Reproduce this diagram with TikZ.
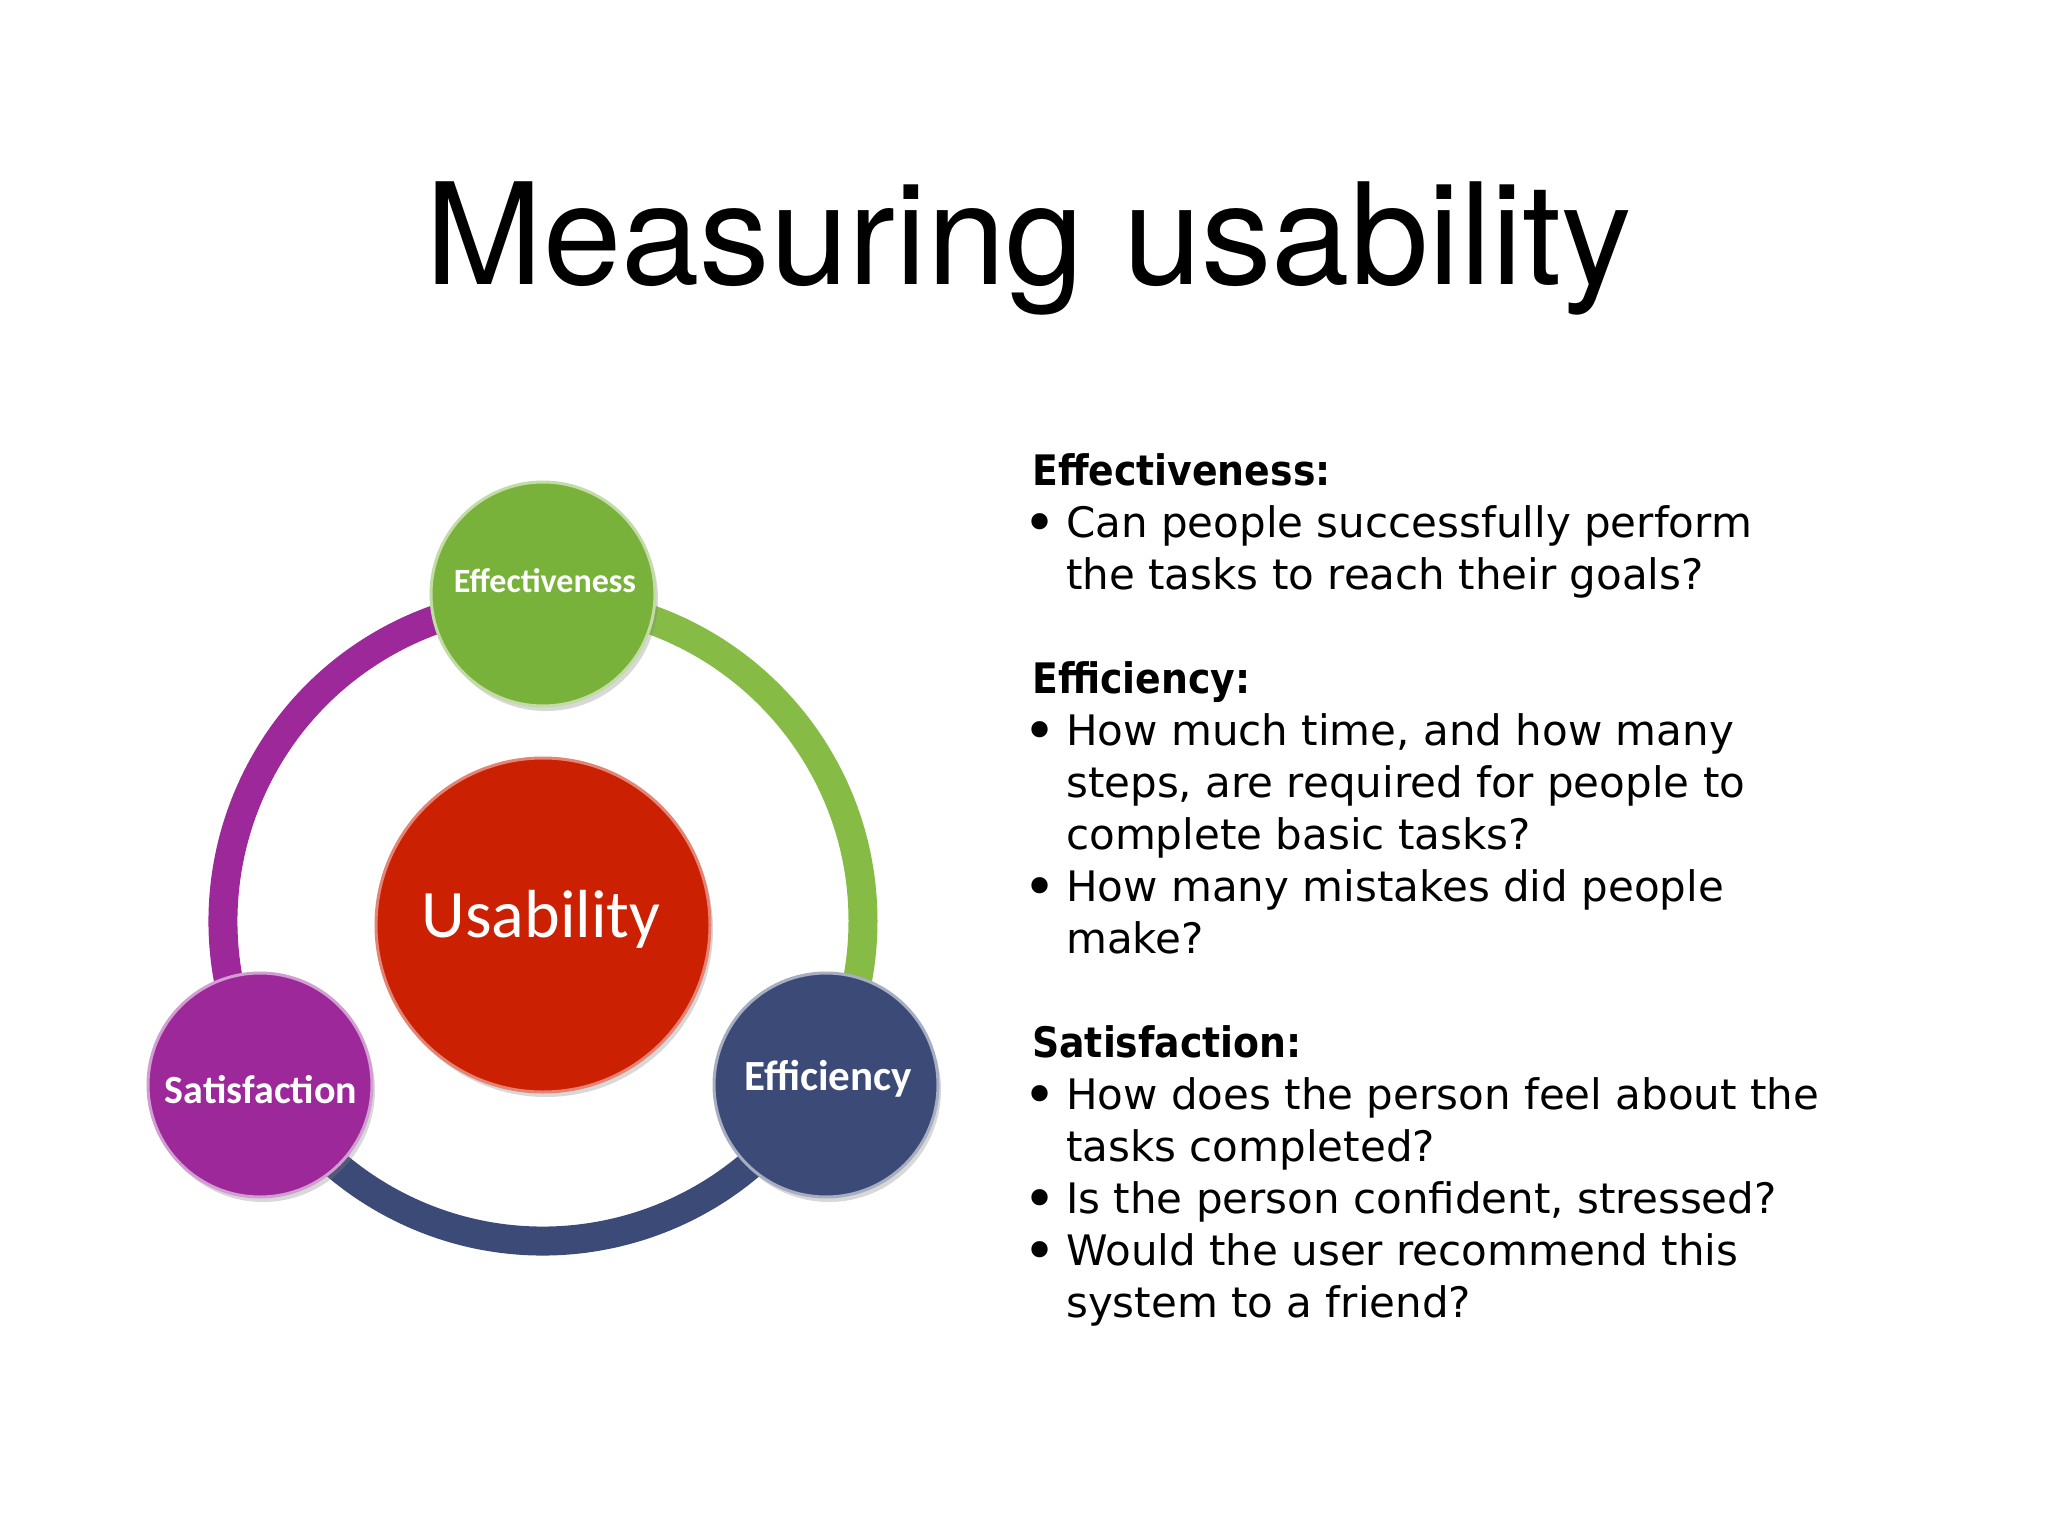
\documentclass[tikz,border=0pt]{standalone}
\usepackage{fontspec}
\setmainfont{DejaVu Sans}
\newfontfamily\titlefont{TeX Gyre Heros}
\newfontfamily\calfont{Carlito}
\newfontfamily\headfont{DejaVu Sans}[FakeStretch=0.9]
\usetikzlibrary{shadows}

\definecolor{effgreen}{RGB}{121,178,59}
\definecolor{ringgreen}{RGB}{134,188,70}
\definecolor{satpurple}{RGB}{156,40,154}
\definecolor{effnavy}{RGB}{60,74,120}
\definecolor{usered}{RGB}{204,32,2}

\newcommand{\bitem}{\makebox[34pt][l]{\hspace*{-9pt}\raisebox{-5pt}{\fontsize{56}{52}\selectfont\textbullet}}}
\newcommand{\bcont}{\hspace*{34pt}}

\begin{document}
\begin{tikzpicture}[x=1pt, y=-1pt,
    ball/.style={circle, minimum size=#1, inner sep=0pt, line width=3pt,
        drop shadow={opacity=0.3, shadow xshift=3pt, shadow yshift=-5pt}},
    ring/.style={line width=29pt},
    lbl/.style={anchor=base, inner sep=0pt, text=white},
    txt/.style={anchor=north west, inner sep=0pt, align=left,
        font=\fontsize{42}{52}\selectfont}]
    \path[use as bounding box, fill=white] (0,0) rectangle (2048,1536);

    % Title
    \node[anchor=base, inner sep=0pt, font=\titlefont\fontsize{141}{160}\selectfont]
        (title) at (1029,284) {Measuring usability};

    % Ring round the usability circle
    \coordinate (ctr) at (543,921);
    \draw[ring, ringgreen] (ctr) ++(-90:320) arc[start angle=-90, end angle=30, radius=320];
    \draw[ring, effnavy] (ctr) ++(30:320) arc[start angle=30, end angle=150, radius=320];
    \draw[ring, satpurple] (ctr) ++(150:320) arc[start angle=150, end angle=270, radius=320];

    % Circles
    \node[ball=334pt, fill=usered, draw=usered!55!white] (use) at (543,925) {};
    \node[ball=224pt, fill=effgreen, draw=effgreen!45!white] (eff) at (543,594) {};
    \node[ball=224pt, fill=satpurple, draw=satpurple!45!white] (sat) at (260,1085) {};
    \node[ball=224pt, fill=effnavy, draw=effnavy!45!white] (effc) at (826,1085) {};

    \node[lbl, font=\calfont\fontsize{68}{80}\selectfont] (useT) at (541,937) {Usability};
    \node[lbl, font=\calfont\bfseries\fontsize{34}{40}\selectfont] (effT) at (545,592) {Effectiveness};
    \node[lbl, font=\calfont\bfseries\fontsize{40}{48}\selectfont] (satT) at (261,1103) {Satisfaction};
    \node[lbl, font=\calfont\bfseries\fontsize{43}{50}\selectfont] (effcT) at (828,1090) {Efficiency};

    % Descriptions
    \node[txt] (effD) at (1032,448.6) {\strut{\headfont\bfseries Effectiveness:}\\
        \bitem Can people successfully perform\\
        \bcont the tasks to reach their goals?};
    \node[txt] (effcD) at (1032,656.6) {\strut{\headfont\bfseries Efficiency:}\\
        \bitem How much time, and how many\\
        \bcont steps, are required for people to\\
        \bcont complete basic tasks?\\
        \bitem How many mistakes did people\\
        \bcont make?};
    \node[txt] (satD) at (1032,1020.6) {\strut{\headfont\bfseries Satisfaction:}\\
        \bitem How does the person feel about the\\
        \bcont tasks completed?\\
        \bitem Is the person confident, stressed?\\
        \bitem Would the user recommend this\\
        \bcont system to a friend?};
\end{tikzpicture}
\end{document}
